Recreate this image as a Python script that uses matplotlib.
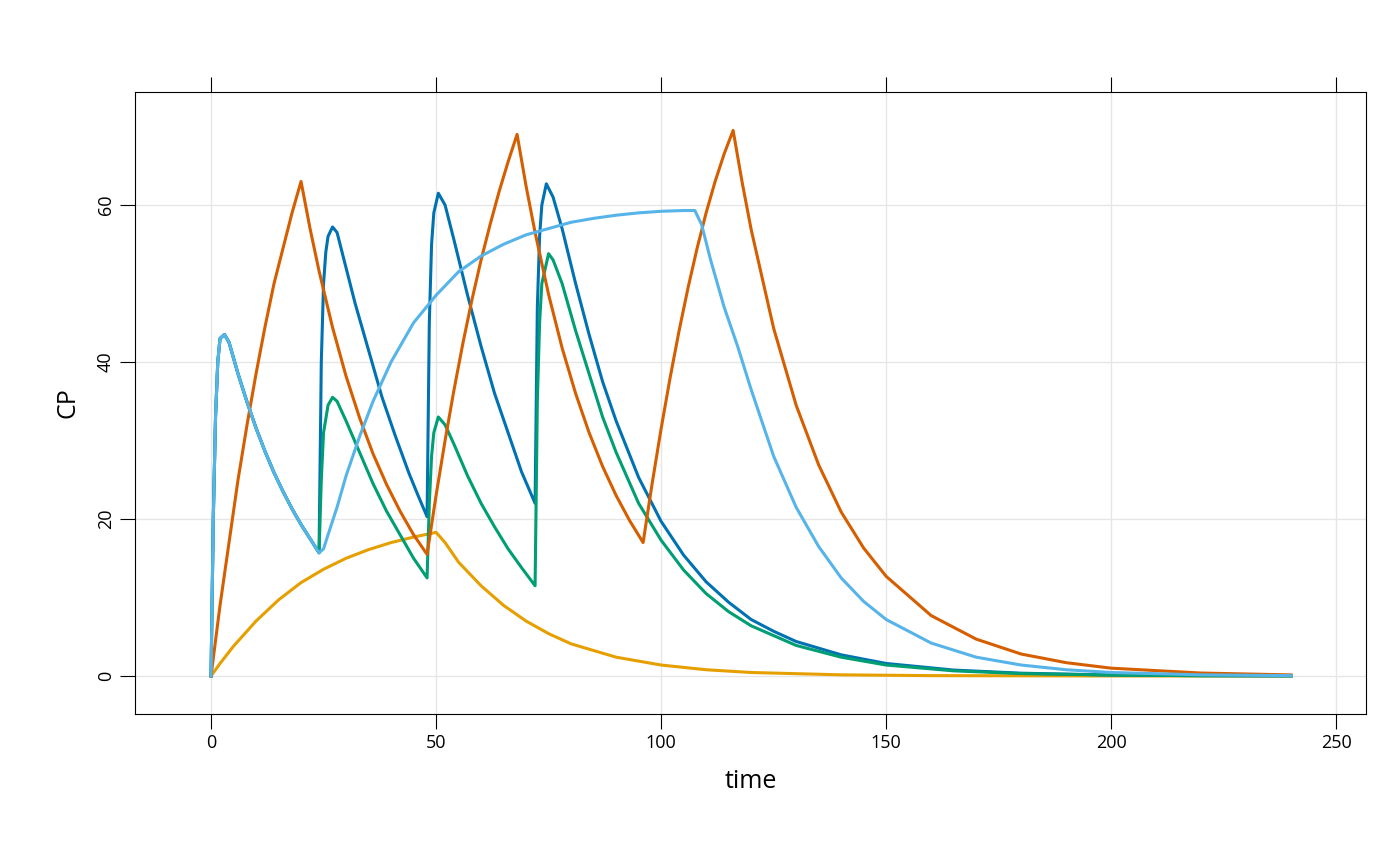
import matplotlib
matplotlib.use("Agg")
import matplotlib.pyplot as plt

plt.rcParams['font.family'] = ['Open Sans', 'DejaVu Sans']

# shared first dose interval (blue, green, light blue)
t_first = [0, 0.5, 1, 1.5, 2, 3, 4, 6, 8, 10, 12, 14, 16, 18, 20, 22, 24]
cp_first = [0, 20, 33, 40, 43, 43.5, 42.5, 38.5, 34.9, 31.6, 28.6, 25.9, 23.5, 21.3, 19.3, 17.5, 15.7]

t_blue = t_first + [24.5, 25, 25.5, 26, 27, 28, 30, 32, 35, 38, 41, 44, 46, 48,
                    48.5, 49, 49.5, 50.5, 52, 54, 57, 60, 63, 66, 69, 72,
                    72.5, 73, 73.5, 74.5, 76, 78, 81, 84, 87, 90, 95, 100, 105, 110, 115,
                    120, 125, 130, 140, 150, 165, 180, 200, 220, 240]
cp_blue = cp_first + [40, 50, 54, 56, 57.2, 56.5, 52, 47.5, 41.5, 35.5, 30.5, 25.8, 23, 20.3,
                      45, 55, 59, 61.5, 60, 55.5, 48.5, 42, 36, 31, 26, 22,
                      47, 56, 60, 62.7, 61, 57, 50, 43.5, 37.5, 32.5, 25.3, 19.7, 15.4, 12, 9.4,
                      7.2, 5.7, 4.4, 2.7, 1.6, 0.76, 0.36, 0.13, 0.05, 0.02]

t_green = t_first + [24.5, 25, 26, 27, 28, 30, 33, 36, 39, 42, 45, 48,
                     48.5, 49, 49.5, 50.5, 52, 54, 57, 60, 63, 66, 69, 72,
                     72.5, 73, 73.5, 75, 76, 78, 81, 84, 87, 90, 95, 100, 105, 110, 115,
                     120, 130, 140, 150, 165, 180, 200, 220, 240]
cp_green = cp_first + [25, 31, 34.5, 35.5, 35, 32.5, 28.5, 24.5, 21, 18, 15, 12.5,
                       22, 28, 31, 33, 32, 29.5, 25.5, 22, 19, 16.2, 13.8, 11.5,
                       35, 45, 50, 53.8, 53, 50, 44, 38.5, 33, 28.5, 22, 17.3, 13.5, 10.5, 8.2,
                       6.4, 3.9, 2.4, 1.4, 0.66, 0.31, 0.12, 0.04, 0.02]

t_light = t_first + [25, 26, 28, 30, 33, 36, 40, 45, 50, 55, 60, 65, 70, 75, 80, 85, 90, 95,
                     100, 105, 107.5, 109, 111, 114, 117, 120, 125, 130, 135, 140, 145, 150,
                     160, 170, 180, 190, 200, 220, 240]
cp_light = cp_first + [16.2, 18, 21.5, 25.5, 30.5, 35, 40, 45, 48.5, 51.5, 53.5, 55, 56.2, 57,
                       57.8, 58.3, 58.7, 59, 59.2, 59.3, 59.3, 57.5, 53, 47, 42, 36.5, 28, 21.5,
                       16.5, 12.5, 9.5, 7.2, 4.2, 2.4, 1.4, 0.8, 0.45, 0.15, 0.05]

t_verm = [0, 2, 4, 6, 8, 10, 12, 14, 16, 18, 20, 22, 24, 27, 30, 33, 36, 39, 42, 45, 48,
          50, 52, 54, 56, 58, 60, 62, 64, 66, 68, 70, 72, 75, 78, 81, 84, 87, 90, 93, 96,
          98, 100, 102, 104, 106, 108, 110, 112, 114, 116, 118, 120, 125, 130, 135, 140,
          145, 150, 160, 170, 180, 190, 200, 220, 240]
cp_verm = [0, 9, 17, 25, 32, 38.5, 44.5, 50, 54.5, 59, 63, 57, 51.6, 44.4, 38.2, 32.9, 28.3,
           24.4, 21, 18, 15.5, 23, 30, 36.5, 42.5, 48, 53, 57.5, 61.7, 65.5, 69, 62.4, 56.5,
           48.6, 41.8, 36, 31, 26.7, 23, 19.8, 17, 24.5, 31.5, 38, 44, 49.5, 54.5, 59, 63,
           66.5, 69.5, 62.9, 56.9, 44.3, 34.5, 26.9, 20.9, 16.3, 12.7, 7.7, 4.7, 2.8, 1.7,
           1.0, 0.38, 0.14]

t_yellow = [0, 2, 5, 10, 15, 20, 25, 30, 35, 40, 45, 50, 52, 55, 60, 65, 70, 75, 80, 90,
            100, 110, 120, 140, 160, 200, 240]
cp_yellow = [0, 1.6, 3.8, 7, 9.7, 11.9, 13.6, 15, 16.1, 17, 17.7, 18.3, 17, 14.5, 11.5, 9,
             7, 5.4, 4.1, 2.4, 1.4, 0.8, 0.45, 0.15, 0.05, 0.01, 0]

fig = plt.figure(figsize=(14, 8.66), dpi=100)
ax = fig.add_axes([0.0964, 0.1755, 0.8796, 0.7183])
lw = 2.2
ax.plot(t_yellow, cp_yellow, color='#E69F00', lw=lw)
ax.plot(t_blue, cp_blue, color='#0072B2', lw=lw)
ax.plot(t_green, cp_green, color='#009E73', lw=lw)
ax.plot(t_verm, cp_verm, color='#D55E00', lw=lw)
ax.plot(t_light, cp_light, color='#56B4E9', lw=lw)

ax.set_xlim(-16.9, 256.7)
ax.set_ylim(-4.84, 74.4)
ax.set_xticks([0, 50, 100, 150, 200, 250])
ax.set_yticks([0, 20, 40, 60])
ax.grid(color='#e6e6e6', lw=1)
ax.set_axisbelow(True)
ax.tick_params(direction='out', length=11, labelsize=13, top=True, right=False)
ax.tick_params(axis='y', labelrotation=90)
for lab in ax.get_yticklabels():
    lab.set_va('center')
ax.set_xlabel('time', fontsize=18, labelpad=12)
ax.set_ylabel('CP', fontsize=18, labelpad=12)
fig.savefig('out.png', dpi=100)
